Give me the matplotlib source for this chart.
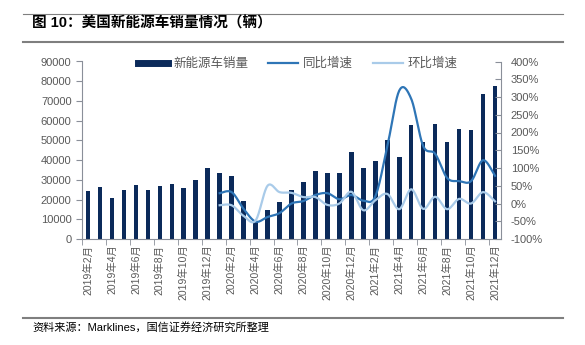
import numpy as np
import matplotlib
matplotlib.use("Agg")
import matplotlib.pyplot as plt
from matplotlib.lines import Line2D

plt.rcParams['font.family'] = ['Liberation Sans', 'Noto Sans CJK SC']
plt.rcParams['axes.unicode_minus'] = False

# monthly data, 2019-02 .. 2021-12
months = ([f"2019年{m}月" for m in range(2, 13)] +
          [f"2020年{m}月" for m in range(1, 13)] +
          [f"2021年{m}月" for m in range(1, 13)])

sales = [24400, 26500, 20600, 24600, 27500, 24800, 27100, 27800, 26100, 29800, 35900,
         33700, 31700, 19200, 9300, 14500, 18900, 24600, 29100, 34500, 33300, 33300, 44300,
         36000, 39400, 50200, 41600, 57900, 49000, 58300, 49000, 55600, 55400, 73300, 77400]

# growth rates (%), from 2020-01
yoy = [29, 32, -15, -51, -38, -27, 0, 7, 24, 29, 12, 24,
       8, 20, 160, 318, 295, 162, 140, 72, 63, 63, 122, 78]
mom = [-5, -5, -35, -48, 50, 32, 30, 18, 18, -4, 0, 33,
       -19, 9, 27, -16, 40, -15, 19, -16, 13, 0, 32, 6]

BAR = '#0b2a5a'
YOY = '#2e75b6'
MOM = '#a9cbe9'
GRAY = '#595959'
AX = '#8a8f99'


def smooth(x, y, n=20):
    """Catmull-Rom curve through the points (like Excel smoothed lines)"""
    pts = np.column_stack([x, y]).astype(float)
    p = np.vstack([pts[0], pts, pts[-1]])
    out = []
    t = np.linspace(0, 1, n, endpoint=False)[:, None]
    for i in range(1, len(p) - 2):
        p0, p1, p2, p3 = p[i - 1], p[i], p[i + 1], p[i + 2]
        seg = 0.5 * (2 * p1 + (-p0 + p2) * t + (2 * p0 - 5 * p1 + 4 * p2 - p3) * t ** 2
                     + (-p0 + 3 * p1 - 3 * p2 + p3) * t ** 3)
        out.append(seg)
    out.append(pts[-1][None])
    c = np.vstack(out)
    return c[:, 0], c[:, 1]


fig = plt.figure(figsize=(5.85, 3.45), dpi=100)
ax = fig.add_axes([82 / 585, 1 - 239 / 345, (501 - 82) / 585, (239 - 61.5) / 345])
ax2 = ax.twinx()

x = np.arange(len(sales))
ax.bar(x, sales, width=0.38, color=BAR, zorder=2)
ax.set_xlim(-0.5, len(sales) - 0.5)
ax.set_ylim(0, 90000)
ax.set_yticks(range(0, 90001, 10000))

xl = x[len(sales) - len(yoy):]
sx, sy = smooth(xl, yoy)
ax2.plot(sx, sy, color=YOY, lw=1.6, zorder=3)
sx, sy = smooth(xl, mom)
ax2.plot(sx, sy, color=MOM, lw=1.6, zorder=3)
ax2.set_ylim(-100, 400)
ax2.set_yticks(range(-100, 401, 50))
ax2.set_yticklabels([f"{v}%" for v in range(-100, 401, 50)])

# every other month labelled, tick marks between pairs
ax.set_xticks(x[::2])
ax.set_xticklabels(months[::2], rotation=90)
ax.set_xticks(np.arange(-0.5, len(sales), 2), minor=True)
ax.tick_params(axis='x', which='major', length=0, labelsize=7.5, labelcolor=GRAY, pad=4)
ax.tick_params(axis='x', which='minor', length=4, color=AX, direction='out')
ax.tick_params(axis='y', length=4, color=AX, labelsize=8, labelcolor=GRAY)
ax2.tick_params(axis='y', length=4, color=AX, direction='in', labelsize=8, labelcolor=GRAY, pad=7)

for a in (ax, ax2):
    a.spines['top'].set_visible(False)
    for s in ('left', 'right', 'bottom'):
        a.spines[s].set_color(AX)
ax2.spines['left'].set_visible(False)
ax2.spines['bottom'].set_visible(False)
ax.spines['right'].set_visible(False)

handles = [Line2D([], [], color=BAR, lw=5),
           Line2D([], [], color=YOY, lw=1.6),
           Line2D([], [], color=MOM, lw=1.6)]
fig.legend(handles, ['新能源车销量', '同比增速', '环比增速'], ncol=3, frameon=False,
           loc='center', bbox_to_anchor=(298 / 585, 1 - 64 / 345), fontsize=9,
           labelcolor=GRAY, handlelength=2.4, columnspacing=1.6, handletextpad=0.4)

# report frame: title, rules, source
fig.add_artist(Line2D([23 / 585, 563 / 585], [1 - 14 / 345] * 2, color='#7f7f7f', lw=0.8))
fig.add_artist(Line2D([23 / 585, 563 / 585], [1 - 42 / 345] * 2, color='#7f7f7f', lw=1.5))
fig.add_artist(Line2D([23 / 585, 563 / 585], [1 - 318 / 345] * 2, color='#7f7f7f', lw=1.5))
fig.text(32 / 585, 1 - 23 / 345, '图 10：美国新能源车销量情况（辆）', fontsize=10.5,
         fontweight='bold', va='center', ha='left', color='black')
fig.text(32 / 585, 1 - 327 / 345, '资料来源：Marklines，国信证券经济研究所整理', fontsize=8,
         va='center', ha='left', color='black')

fig.savefig('out.png', dpi=100)
